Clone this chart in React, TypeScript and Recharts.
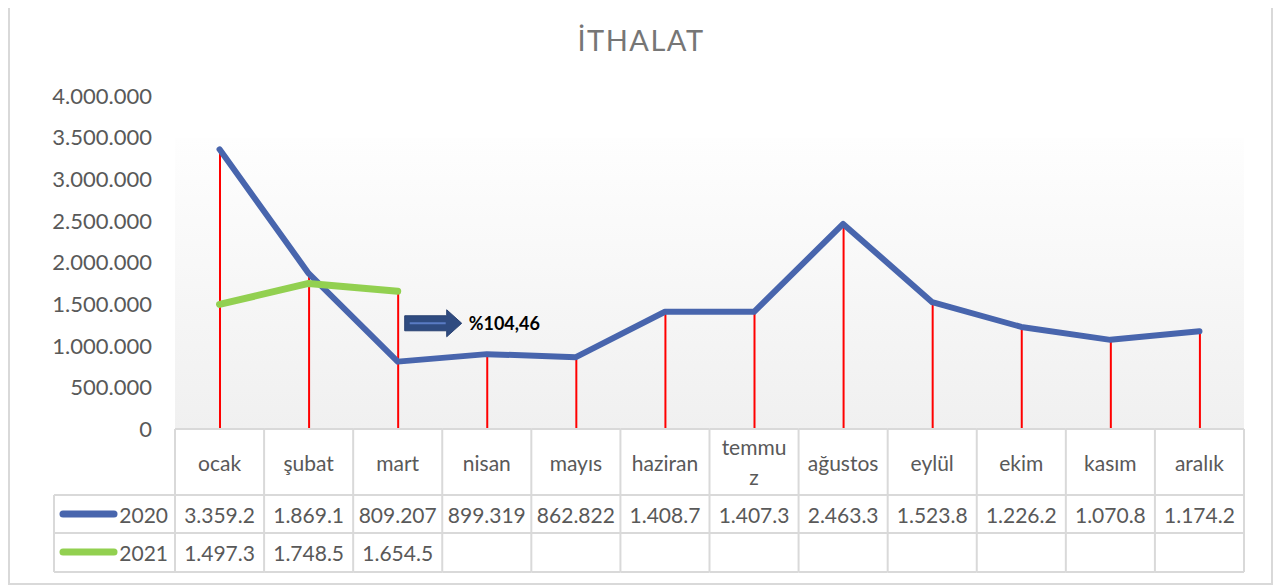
import React from 'react';
import { ComposedChart, Line, Bar, XAxis, YAxis, ReferenceArea, ReferenceDot } from 'recharts';

const months = ['ocak', 'şubat', 'mart', 'nisan', 'mayıs', 'haziran', 'temmuz', 'ağustos', 'eylül', 'ekim', 'kasım', 'aralık'];
const monthLabels: string[][] = [['ocak'], ['şubat'], ['mart'], ['nisan'], ['mayıs'], ['haziran'], ['temmu', 'z'], ['ağustos'], ['eylül'], ['ekim'], ['kasım'], ['aralık']];
const values2020 = [3359200, 1869100, 809207, 899319, 862822, 1408700, 1407300, 2463300, 1523800, 1226200, 1070800, 1174200];
const values2021: (number | null)[] = [1497300, 1748500, 1654500, null, null, null, null, null, null, null, null, null];
const seriesNames = ['2020', '2021'];
const yTicks = [0, 500000, 1000000, 1500000, 2000000, 2500000, 3000000, 3500000, 4000000];
const changeLabel = '%104,46';
const changeAnchorMonth = 'mart';
const changeAnchorValue = 1270000;
const backgroundTop = 3500000;

const BLUE = '#4865ad';
const GREEN = '#92d050';
const GRID = '#d9d9d9';
const TEXT = '#595959';

const fmt = (v: number) => String(Math.round(v)).replace(/\B(?=(\d{3})+(?!\d))/g, '.');
const cellText = (v: number | null) => (v == null ? '' : fmt(v).slice(0, 7));

const data = months.map((m, i) => ({
  month: m,
  s2020: values2020[i],
  s2021: values2021[i],
  drop: Math.max(values2020[i], values2021[i] ?? 0),
}));

const W = 1266;
const H = 578;
const MARGIN = { top: 88, right: 30, left: 0, bottom: 14 };
const YW = 167;
const XH = 143;
const COL = (W - MARGIN.left - MARGIN.right - YW) / months.length;
const ROW1 = 66;
const ROW2 = 38;
const ROW3 = 39;
const LEGEND_W = 121;
const FONT = 'Lato, "Open Sans", sans-serif';

const TableTick = (props: any) => {
  const { x, y, index } = props;
  const left = x - COL / 2;
  const right = x + COL / 2;
  const yA = y;
  const yB = y + ROW1;
  const yC = yB + ROW2;
  const yD = yC + ROW3;
  const lines = monthLabels[index] || [months[index]];
  const last = index === months.length - 1;
  const textStyle = { fontFamily: FONT, fontSize: 21, fill: TEXT } as any;
  return (
    <g>
      <line x1={left} x2={right} y1={yA} y2={yA} stroke={GRID} strokeWidth={2} />
      <line x1={left} x2={right} y1={yB} y2={yB} stroke={GRID} strokeWidth={2} />
      <line x1={left} x2={right} y1={yC} y2={yC} stroke={GRID} strokeWidth={2} />
      <line x1={left} x2={right} y1={yD} y2={yD} stroke={GRID} strokeWidth={2} />
      <line x1={left} x2={left} y1={yA} y2={yD} stroke={GRID} strokeWidth={2} />
      {last && <line x1={right} x2={right} y1={yA} y2={yD} stroke={GRID} strokeWidth={2} />}
      {lines.length === 1 ? (
        <text x={x} y={yA + 33} textAnchor="middle" dominantBaseline="central" style={textStyle}>{lines[0]}</text>
      ) : (
        lines.map((t, k) => (
          <text key={k} x={x} y={yA + 17 + k * 30} textAnchor="middle" dominantBaseline="central" style={textStyle}>{t}</text>
        ))
      )}
      <text x={x} y={yB + 19} textAnchor="middle" dominantBaseline="central" style={textStyle}>{cellText(values2020[index])}</text>
      <text x={x} y={yC + 19} textAnchor="middle" dominantBaseline="central" style={textStyle}>{cellText(values2021[index])}</text>
      {index === 0 && (
        <g>
          <line x1={left - LEGEND_W} x2={left} y1={yB} y2={yB} stroke={GRID} strokeWidth={2} />
          <line x1={left - LEGEND_W} x2={left} y1={yC} y2={yC} stroke={GRID} strokeWidth={2} />
          <line x1={left - LEGEND_W} x2={left} y1={yD} y2={yD} stroke={GRID} strokeWidth={2} />
          <line x1={left - LEGEND_W} x2={left - LEGEND_W} y1={yB} y2={yD} stroke={GRID} strokeWidth={2} />
          <line x1={left - LEGEND_W + 9} x2={left - 61} y1={yB + 19} y2={yB + 19} stroke={BLUE} strokeWidth={7} strokeLinecap="round" />
          <text x={left - 7} y={yB + 19} textAnchor="end" dominantBaseline="central" style={textStyle}>{seriesNames[0]}</text>
          <line x1={left - LEGEND_W + 9} x2={left - 61} y1={yC + 19} y2={yC + 19} stroke={GREEN} strokeWidth={7} strokeLinecap="round" />
          <text x={left - 7} y={yC + 19} textAnchor="end" dominantBaseline="central" style={textStyle}>{seriesNames[1]}</text>
        </g>
      )}
    </g>
  );
};

const BgShape = (props: any) => {
  const { x, y, width, height } = props;
  return (
    <g>
      <defs>
        <linearGradient id="plotGrad" x1="0" y1="0" x2="0" y2="1">
          <stop offset="0%" stopColor="#fefefe" />
          <stop offset="100%" stopColor="#f0f0f0" />
        </linearGradient>
      </defs>
      <rect x={x} y={y} width={width} height={height} fill="url(#plotGrad)" />
    </g>
  );
};

const ArrowShape = (props: any) => {
  const { cx, cy } = props;
  const x0 = cx + 7;
  const xb = cx + 49;
  const xt = cx + 64;
  const pts = [
    [x0, cy - 7.5], [xb, cy - 7.5], [xb, cy - 13.5], [xt, cy], [xb, cy + 13.5], [xb, cy + 7.5], [x0, cy + 7.5],
  ].map((p) => p.join(',')).join(' ');
  return (
    <g>
      <polygon points={pts} fill="#2f4b80" stroke="#2a4272" strokeWidth={1} />
      <line x1={x0 + 5} x2={xb - 1} y1={cy} y2={cy} stroke="#5a7bc4" strokeWidth={2} />
      <text x={cx + 71} y={cy} dominantBaseline="central" style={{ fontFamily: FONT, fontSize: 18, fontWeight: 700, fill: '#000' }}>{changeLabel}</text>
    </g>
  );
};

export default function App() {
  return (
    <div style={{ position: 'relative', width: W, height: H, background: '#fff', fontFamily: FONT }}>
      <div style={{ position: 'absolute', left: 0, top: 0, width: W - 1, height: H - 1, boxSizing: 'border-box', borderLeft: `2px solid ${GRID}`, borderRight: `2px solid ${GRID}`, borderBottom: `2px solid ${GRID}` }} />
      <div style={{ position: 'absolute', left: 0, top: 12, width: W, textAlign: 'center', fontSize: 29, lineHeight: '40px', fontWeight: 400, color: '#767676', letterSpacing: 1.5, fontFamily: FONT }}>İTHALAT</div>
      <div style={{ position: 'absolute', left: 0, top: 0 }}>
        <ComposedChart width={W} height={H} data={data} margin={MARGIN}>
          <XAxis dataKey="month" height={XH} axisLine={false} tickLine={false} tickSize={0} tickMargin={0} interval={0} tick={(p: any) => <TableTick {...p} />} />
          <YAxis width={YW} domain={[0, 4000000]} ticks={yTicks} axisLine={false} tickLine={false} tickSize={0} tickMargin={23} tickFormatter={fmt} tick={{ fontFamily: FONT, fontSize: 22, fill: TEXT }} />
          <ReferenceArea y1={0} y2={backgroundTop} shape={(p: any) => <BgShape {...p} />} ifOverflow="visible" />
          <Bar dataKey="drop" fill="#ff0000" barSize={2} isAnimationActive={false} />
          <Line type="linear" dataKey="s2020" stroke={BLUE} strokeWidth={6} dot={false} activeDot={false} strokeLinecap="round" strokeLinejoin="round" isAnimationActive={false} />
          <Line type="linear" dataKey="s2021" stroke={GREEN} strokeWidth={7} dot={false} activeDot={false} strokeLinecap="round" strokeLinejoin="round" isAnimationActive={false} />
          <ReferenceDot x={changeAnchorMonth} y={changeAnchorValue} shape={(p: any) => <ArrowShape {...p} />} ifOverflow="visible" />
        </ComposedChart>
      </div>
    </div>
  );
}
